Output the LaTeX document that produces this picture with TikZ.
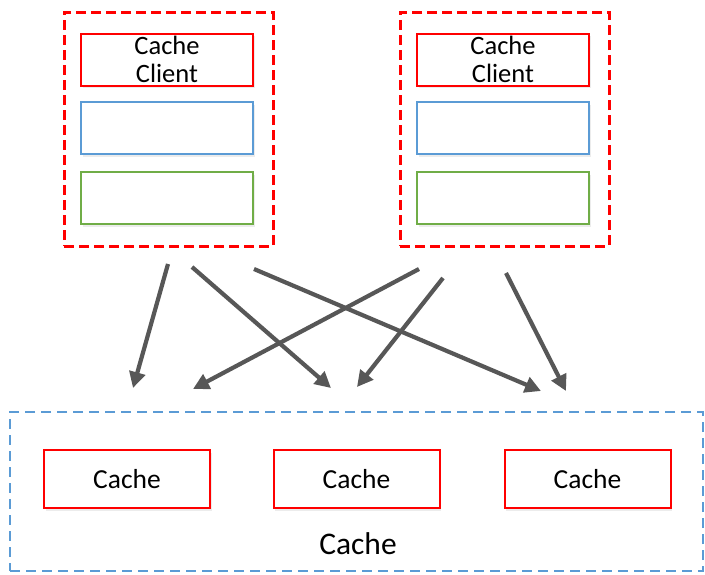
\documentclass[tikz,border=0pt]{standalone}
\usepackage{fontspec}
\setmainfont{Carlito}
\usetikzlibrary{arrows.meta,shadows}

\definecolor{clientred}{HTML}{FF0000}
\definecolor{frameblue}{HTML}{5B9BD5}
\definecolor{boxgreen}{HTML}{70AD47}
\definecolor{flowgray}{HTML}{575757}

\tikzset{
  softshadow/.style={drop shadow={shadow xshift=1.5pt, shadow yshift=-2.5pt, opacity=0.15}},
  group/.style={draw=clientred, line width=3pt, dash pattern=on 10pt off 5pt,
    minimum width=209pt, minimum height=234pt, inner sep=0pt},
  slot/.style={fill=white, line width=2pt, softshadow,
    minimum width=172pt, minimum height=52pt, inner sep=0pt},
  clientbox/.style={slot, draw=clientred, align=center,
    font=\fontsize{26.5}{28}\selectfont},
  cachebox/.style={slot, draw=clientred, minimum width=166pt, minimum height=58pt,
    font=\fontsize{27.5}{30}\selectfont},
  frame/.style={draw=frameblue, line width=2.4pt, dash pattern=on 10pt off 6pt,
    minimum width=693pt, minimum height=159pt, inner sep=0pt},
  flow/.style={draw=flowgray, line width=4.2pt,
    -{Triangle[length=16pt,width=16pt]}},
}

\begin{document}
\begin{tikzpicture}[x=1pt,y=-1pt]
    \useasboundingbox (0,0) rectangle (705,574);

    % client hosts
    \node[group] (lefthost) at (168.5,129) {};
    \node[group] (righthost) at (504.5,129) {};
    \node[clientbox] (leftclient) at (167,59.5) {Cache\\Client};
    \node[slot, draw=frameblue] (leftmid) at (167,128) {};
    \node[slot, draw=boxgreen] (leftlow) at (167,198) {};
    \node[clientbox] (rightclient) at (503,59.5) {Cache\\Client};
    \node[slot, draw=frameblue] (rightmid) at (503,128) {};
    \node[slot, draw=boxgreen] (rightlow) at (503,198) {};

    % cache cluster
    \node[frame] (cluster) at (356.5,491.5) {};
    \node[cachebox] (cacheA) at (127,479) {Cache};
    \node[cachebox] (cacheB) at (356.5,479) {Cache};
    \node[cachebox] (cacheC) at (587.5,479) {Cache};
    \node[font=\fontsize{31.5}{34}\selectfont] (clusterlabel) at (358,544) {Cache};

    % arrow ends
    \coordinate (l1) at (168,264);
    \coordinate (l2) at (192,267);
    \coordinate (l3) at (254,269);
    \coordinate (r1) at (419,269);
    \coordinate (r2) at (443,278);
    \coordinate (r3) at (506,273);
    \coordinate (t1) at (133,388);
    \coordinate (t2) at (193,389);
    \coordinate (t3) at (331,388);
    \coordinate (t4) at (357,387);
    \coordinate (t5) at (541,391);
    \coordinate (t6) at (566,391);

    \draw[flow] (l1) -- (t1);
    \draw[flow] (l2) -- (t3);
    \draw[flow] (l3) -- (t5);
    \draw[flow] (r1) -- (t2);
    \draw[flow] (r2) -- (t4);
    \draw[flow] (r3) -- (t6);
\end{tikzpicture}
\end{document}
